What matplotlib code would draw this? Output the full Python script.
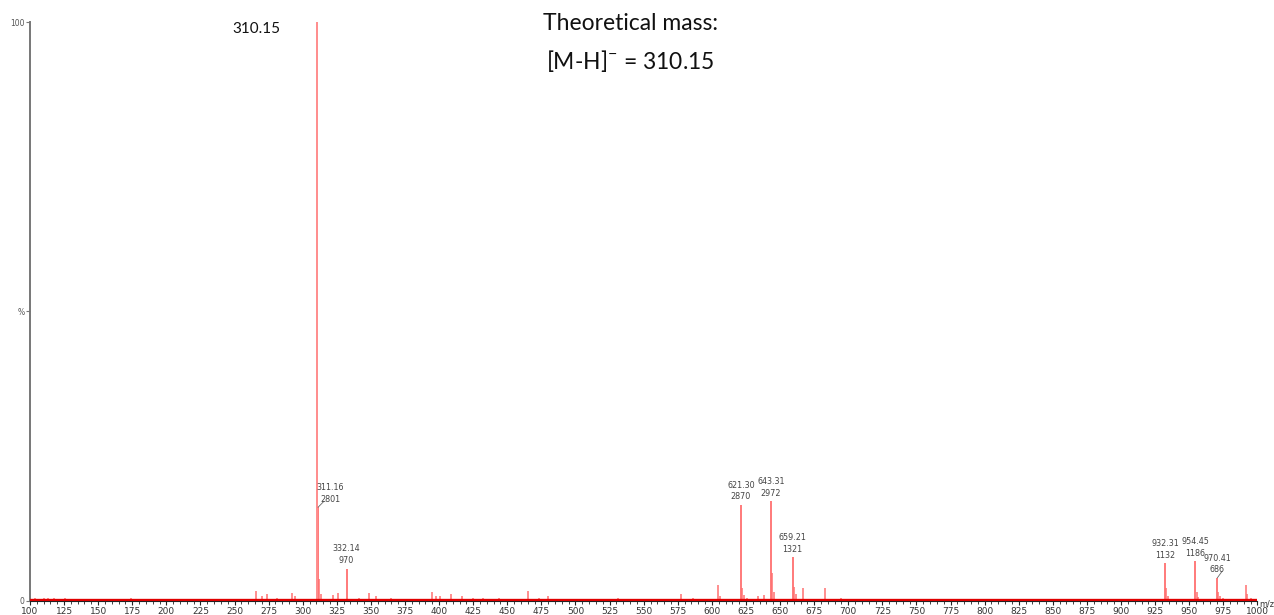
import matplotlib.pyplot as plt
import numpy as np

# labelled peaks: m/z, relative intensity (%), intensity count
label_mz = [311.16, 332.14, 621.30, 643.31, 659.21, 932.31, 954.45, 970.41]
label_rel = [16.2, 5.6, 16.6, 17.2, 7.6, 6.5, 6.9, 4.0]
label_count = [2801, 970, 2870, 2972, 1321, 1132, 1186, 686]

# base peak
base_mz = 310.15
base_rel = 100.0

# small unlabelled peaks
minor_mz = [104, 110, 113, 118, 123, 126, 131, 137, 145, 160, 174, 187, 205,
            228, 245, 265.5, 270, 274, 281, 292.5, 294, 312.3, 313.2, 322,
            326, 341, 348.5, 353.5, 365, 381, 395, 398, 400.5, 409, 417, 425,
            432, 444, 452, 465, 473, 480, 492, 508, 531, 556, 572, 577.5, 586,
            604.5, 606, 622.3, 623.5, 626, 634, 638, 644.3, 645.5, 660.3,
            661.5, 667, 683, 695, 712, 738, 764, 798, 842, 876, 905, 933.3,
            934.5, 955.4, 956.5, 971.4, 972.5, 975, 991.5, 992.5, 995]
minor_rel = [0.5, 0.6, 0.5, 0.6, 0.4, 0.5, 0.4, 0.4, 0.3, 0.4, 0.5, 0.3, 0.3,
             0.3, 0.4, 1.8, 0.9, 1.2, 0.5, 1.4, 0.8, 3.8, 1.2, 1.0,
             1.4, 0.6, 1.4, 0.8, 0.5, 0.4, 1.5, 0.9, 0.8, 1.2, 0.8, 0.5,
             0.6, 0.5, 0.4, 1.7, 0.6, 0.8, 0.4, 0.4, 0.5, 0.3, 0.4, 1.2, 0.6,
             2.8, 0.8, 2.2, 1.0, 0.6, 0.8, 1.0, 4.8, 1.5, 2.5,
             1.2, 2.2, 2.3, 0.6, 0.4, 0.4, 0.3, 0.3, 0.3, 0.3, 0.3, 2.2,
             0.8, 1.6, 0.7, 1.6, 0.8, 0.5, 2.8, 1.2, 0.5]

xticks_major = np.arange(100, 1001, 25)
xticks_minor = np.arange(100, 1001, 5)

fig = plt.figure(figsize=[12.74, 6.15], dpi=100)
ax = fig.add_axes([0.0235, 0.0228, 0.9635, 0.9414])

peak_col = "#ff7070"
ax.vlines(minor_mz, 0, minor_rel, color=peak_col, lw=1.1)
ax.vlines(label_mz, 0, label_rel, color=peak_col, lw=1.3)
ax.vlines([base_mz], 0, [base_rel], color="#ff8c8c", lw=1.4)
ax.axhline(0.25, color="#e00000", lw=2.4, zorder=3)

ax.set_xlim(100, 1000)
ax.set_ylim(0, 100)

# peak labels (small grey two-line annotations)
for mz, rel, cnt in zip(label_mz, label_rel, label_count):
    dx = 9 if mz == 311.16 else 0
    ax.annotate(f"{mz:.2f}\n{cnt}", xy=(mz, rel), xytext=(mz + dx, rel + 0.6),
                ha="center", va="bottom", fontsize=5.8, color="#444444",
                linespacing=1.4)
# little connector lines for offset labels
ax.plot([311.3, 315.5], [16.2, 17.2], color="#666666", lw=0.6)
ax.plot([970.6, 974.0], [4.0, 5.1], color="#666666", lw=0.6)

ax.text(266, 98.8, f"{base_mz:.2f}", fontsize=11, family="Lato",
        ha="center", va="center", color="#111111")

ax.spines["top"].set_visible(False)
ax.spines["right"].set_visible(False)
ax.spines["left"].set_color("#777777")
ax.spines["left"].set_linewidth(1.4)
ax.spines["bottom"].set_color("#222222")

ax.set_xticks(xticks_major)
ax.set_xticks(xticks_minor, minor=True)
ax.tick_params(axis="x", which="major", length=3, labelsize=6.5, pad=1,
               colors="#222222", labelcolor="#333333")
ax.tick_params(axis="x", which="minor", length=2, color="#222222")
ax.set_yticks([0, 50, 100])
ax.set_yticklabels(["0", "%", "100"])
ax.tick_params(axis="y", length=3, labelsize=5.5, pad=1, labelcolor="#555555",
               color="#777777")

ax.text(1001, -0.5, "m/z", fontsize=5.8, color="#333333", ha="left",
        va="center", clip_on=False)

fig.text(0.495, 0.962, "Theoretical mass:", fontsize=16.5, family="Lato",
         ha="center", va="center", color="#111111")
fig.text(0.495, 0.90, r"[M-H]$^{\mathregular{-}}$ = 310.15", fontsize=16.5,
         family="Lato", ha="center", va="center", color="#111111")

fig.savefig("out.png", dpi=100)
